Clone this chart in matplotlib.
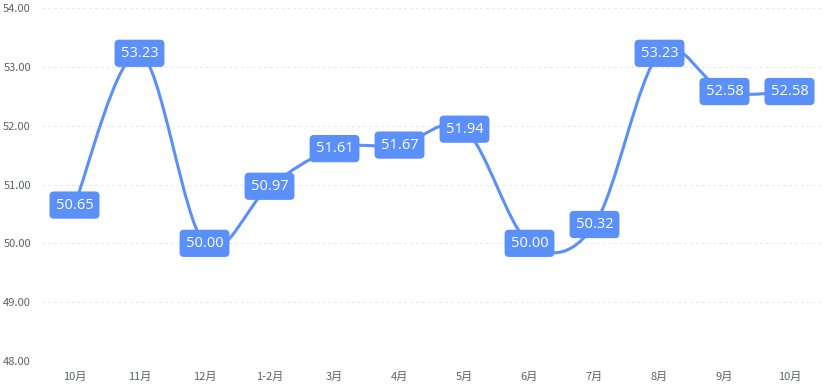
import numpy as np
import matplotlib.pyplot as plt
from matplotlib.path import Path
from matplotlib.patches import PathPatch

plt.rcParams['font.family'] = ['Noto Sans CJK SC', 'DejaVu Sans']

months = ['10月', '11月', '12月', '1-2月', '3月', '4月', '5月', '6月', '7月', '8月', '9月', '10月']
values = [50.65, 53.23, 50.00, 50.97, 51.61, 51.67, 51.94, 50.00, 50.32, 53.23, 52.58, 52.58]
y_ticks = [48, 49, 50, 51, 52, 53, 54]

BLUE = '#5b8ff9'

fig = plt.figure(figsize=(8.31, 3.87), dpi=100)
ax = fig.add_axes([42 / 831, 26 / 387, 780 / 831, 353 / 387])

x = np.arange(len(months))
ax.set_xlim(-0.5, len(months) - 0.5)
ax.set_ylim(48, 54)

# smooth line: cardinal spline (tension 0) as bezier segments
pts = np.column_stack([x, values]).astype(float)
n = len(pts)
ext = np.vstack([pts[0], pts, pts[-1]])
verts = [pts[0]]
codes = [Path.MOVETO]
for i in range(n - 1):
    p0, p1, p2, p3 = ext[i], ext[i + 1], ext[i + 2], ext[i + 3]
    verts += [p1 + (p2 - p0) / 6, p2 - (p3 - p1) / 6, p2]
    codes += [Path.CURVE4] * 3
ax.add_patch(PathPatch(Path(verts, codes), facecolor='none', edgecolor=BLUE, lw=2.2,
                       capstyle='round', zorder=2))

for xi, v in zip(x, values):
    ax.text(xi, v, f'{v:.2f}', ha='center', va='center', color='white', fontsize=10.5,
            family=['Open Sans', 'DejaVu Sans'], zorder=4,
            bbox=dict(boxstyle='round,pad=0.42,rounding_size=0.3', fc=BLUE, ec=BLUE, lw=0))

ax.set_yticks(y_ticks)
ax.set_yticklabels([f'{t:.2f}' for t in y_ticks])
ax.set_xticks(x)
ax.set_xticklabels(months)
ax.grid(axis='y', color='#e8e8e8', linestyle=(0, (3, 3)), lw=0.7)
ax.set_axisbelow(True)
for s in ax.spines.values():
    s.set_visible(False)
ax.tick_params(length=0, colors='#5f6169', labelsize=8)
ax.tick_params(axis='y', pad=8)
ax.tick_params(axis='x', pad=8)

fig.savefig('out.png', dpi=100)
